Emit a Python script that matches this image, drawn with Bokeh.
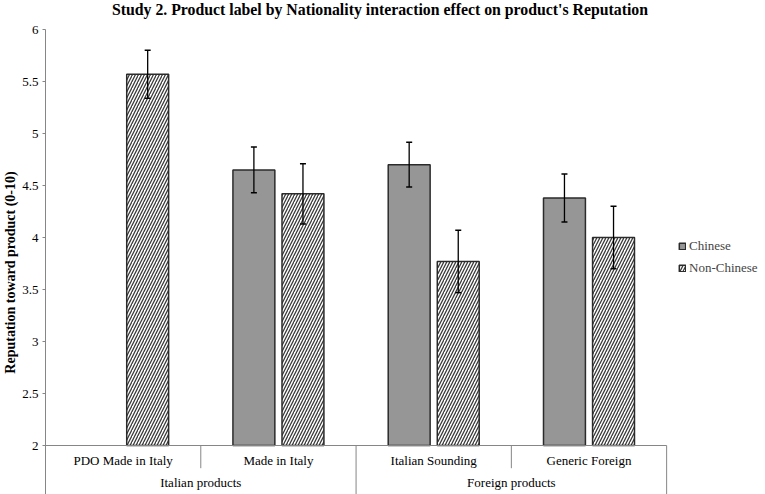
import numpy as np
from bokeh.plotting import figure
from bokeh.layouts import column
from bokeh.models import Range1d, FixedTicker, ColumnDataSource, Whisker, TeeHead, Legend, LegendItem, Div
from bokeh.core.properties import value
from bokeh.embed import file_html
from bokeh.resources import INLINE

# ---- data ----
title_text = "Study 2. Product label by Nationality interaction effect on product's Reputation"
y_label = "Reputation toward product (0-10)"
categories = ["PDO Made in Italy", "Made in Italy", "Italian Sounding", "Generic Foreign"]
groups = ["Italian products", "Italian products", "Foreign products", "Foreign products"]
chinese = [np.nan, 4.65, 4.70, 4.38]
chinese_err = [np.nan, 0.22, 0.215, 0.23]
non_chinese = [5.57, 4.42, 3.77, 4.00]
non_chinese_err = [0.23, 0.29, 0.30, 0.30]
y_ticks = [2, 2.5, 3, 3.5, 4, 4.5, 5, 5.5, 6]

FONT = "Liberation Serif"
n = len(categories)
idx = np.arange(n, dtype=float)
offset = 0.158
bar_w = 0.27
base = 2.0
px_x = 155.5   # pixels per category
px_y = 104.0   # pixels per unit

W = 765
DIV_H = 22
H = 494 - DIV_H
LEFT, TOP = 44, 7
y0 = 6 - (H - TOP) / px_y

title_div = Div(text=title_text, width=W, height=DIV_H, margin=(0, 0, 0, 0),
                styles={"font-family": "'Liberation Serif', serif", "font-weight": "bold",
                        "font-size": "15.8px", "line-height": "20px", "text-align": "center",
                        "color": "black", "white-space": "nowrap", "padding-right": "5px"})

p = figure(width=W, height=H, output_backend="svg", toolbar_location=None,
           x_range=Range1d(-0.5, -0.5 + (W - LEFT) / px_x), y_range=Range1d(y0, 6.0),
           x_axis_location=None, min_border_left=LEFT, min_border_right=0,
           min_border_top=TOP, min_border_bottom=0, margin=(0, 0, 0, 0))
p.outline_line_color = None
p.grid.visible = False

ax = p.yaxis[0]
ax.ticker = FixedTicker(ticks=y_ticks)
ax.axis_line_color = "#868686"
ax.major_tick_line_color = "#868686"
ax.major_tick_out = 3
ax.major_tick_in = 0
ax.minor_tick_line_color = None
ax.major_label_text_font = FONT
ax.major_label_text_font_size = "13px"
ax.major_label_text_color = "black"
ax.major_label_standoff = 4
# trailing no-break spaces nudge the centred rotated label slightly downward
ax.axis_label = y_label + "\u00a0" * 6
ax.axis_label_text_font = FONT
ax.axis_label_text_font_style = "bold"
ax.axis_label_text_font_size = "14px"
ax.axis_label_text_color = "black"
ax.axis_label_standoff = 1

# bars
ch = np.array(chinese)
ce = np.array(chinese_err)
mask = ~np.isnan(ch)
src_c = ColumnDataSource(dict(x=idx[mask] - offset, top=ch[mask],
                              up=ch[mask] + ce[mask], lo=ch[mask] - ce[mask]))
nc = np.array(non_chinese)
ne = np.array(non_chinese_err)
src_n = ColumnDataSource(dict(x=idx + offset, top=nc, up=nc + ne, lo=nc - ne))

r_c = p.vbar(x="x", top="top", bottom=base, width=bar_w, source=src_c,
             fill_color="#969696", line_color="#2b2b2b", line_width=1.5)
r_n = p.vbar(x="x", top="top", bottom=base, width=bar_w, source=src_n,
             fill_color="white", line_color="#2b2b2b", line_width=1.5,
             hatch_pattern="/", hatch_color="#3a3a3a", hatch_scale=6, hatch_weight=1.3)

for src in (src_c, src_n):
    p.add_layout(Whisker(base="x", upper="up", lower="lo", source=src, level="overlay",
                         line_color="black", line_width=1.3,
                         upper_head=TeeHead(size=6, line_width=1.5, line_color="black"),
                         lower_head=TeeHead(size=6, line_width=1.5, line_color="black")))

# category axis drawn as table
axis_col = "#868686"
p.segment(x0=[-0.5], y0=[base], x1=[n - 0.5], y1=[base], line_color=axis_col, line_width=1)
sep_x = np.append(idx[1:] - 0.5, n - 0.5)
is_group_edge = [(i == n or groups[i] != groups[i - 1]) for i in range(1, n + 1)]
y_short = base - 22.7 / px_y
p.segment(x0=list(sep_x), x1=list(sep_x), y0=[base] * n,
          y1=[y0 if g else y_short for g in is_group_edge],
          line_color=axis_col, line_width=1)

p.text(x=list(idx), y=[base - 15 / px_y] * n, text=categories,
       text_font=value(FONT), text_font_size="13px", text_align="center",
       text_baseline="middle", text_color="black")

ug = []
for g in groups:
    if g not in ug:
        ug.append(g)
gx = [float(np.mean([i for i in range(n) if groups[i] == g])) for g in ug]
p.text(x=gx, y=[base - 36.5 / px_y] * len(ug), text=ug,
       text_font=value(FONT), text_font_size="13px", text_align="center",
       text_baseline="middle", text_color="black")

legend = Legend(items=[LegendItem(label="Chinese", renderers=[r_c]),
                       LegendItem(label="Non-Chinese", renderers=[r_n])],
                location=(633, 218))
legend.background_fill_alpha = 0
legend.border_line_alpha = 0
legend.padding = 0
legend.margin = 0
legend.spacing = 6
legend.glyph_width = 8
legend.glyph_height = 8
legend.label_height = 16
legend.label_standoff = 3
legend.label_text_font = FONT
legend.label_text_font_size = "13px"
p.add_layout(legend)

layout = column(title_div, p, spacing=0)
open("out.html", "w").write(file_html(layout, INLINE))
